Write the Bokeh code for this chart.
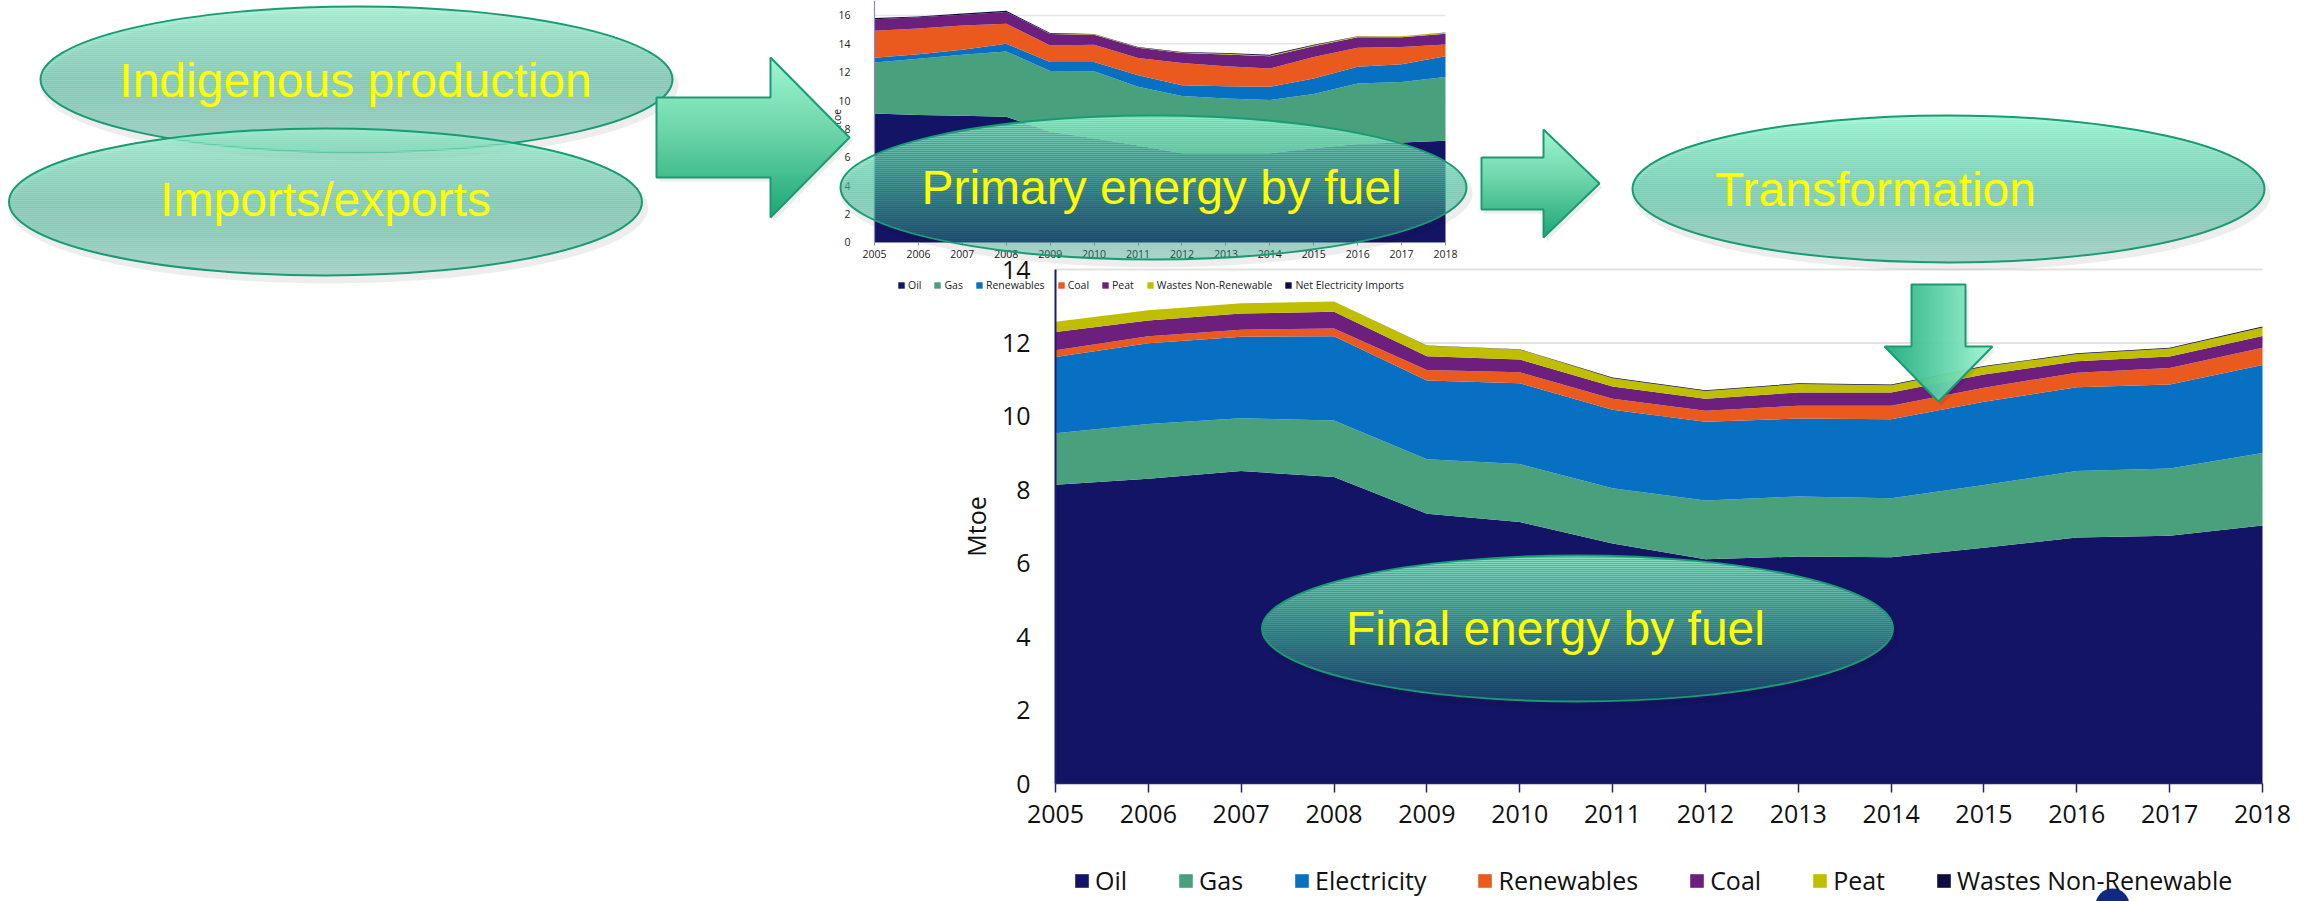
import numpy as np
from bokeh.plotting import figure
from bokeh.models import Range1d, LinearAxis, FixedTicker, ColumnDataSource, Legend, LegendItem
from bokeh.embed import file_html
from bokeh.resources import INLINE
from bokeh.core.properties import value

# ---------------- data ----------------
years = list(range(2005, 2019))

# Final energy by fuel (large chart), Mtoe
final_names = ["Oil", "Gas", "Electricity", "Renewables", "Coal", "Peat", "Wastes Non-Renewable"]
final_oil = [8.14, 8.30, 8.51, 8.35, 7.35, 7.12, 6.54, 6.11, 6.18, 6.16, 6.42, 6.70, 6.75, 7.03]
final_gas = [1.40, 1.49, 1.44, 1.54, 1.48, 1.58, 1.50, 1.60, 1.64, 1.61, 1.71, 1.81, 1.83, 1.97]
final_electricity = [2.08, 2.20, 2.22, 2.29, 2.15, 2.20, 2.14, 2.14, 2.12, 2.15, 2.27, 2.28, 2.29, 2.40]
final_renewables = [0.18, 0.19, 0.19, 0.21, 0.28, 0.30, 0.30, 0.30, 0.35, 0.37, 0.38, 0.40, 0.45, 0.47]
final_coal = [0.50, 0.43, 0.44, 0.46, 0.38, 0.35, 0.33, 0.33, 0.36, 0.36, 0.36, 0.31, 0.31, 0.32]
final_peat = [0.28, 0.28, 0.28, 0.28, 0.28, 0.27, 0.23, 0.21, 0.23, 0.20, 0.21, 0.20, 0.22, 0.23]
final_wastes = [0.0, 0.0, 0.0, 0.0, 0.01, 0.01, 0.02, 0.02, 0.02, 0.02, 0.02, 0.02, 0.02, 0.03]
final_yticks = [0, 2, 4, 6, 8, 10, 12, 14]

# Primary energy by fuel (small chart), Mtoe
prim_names = ["Oil", "Gas", "Renewables", "Coal", "Peat", "Wastes Non-Renewable", "Net Electricity Imports"]
prim_oil = [9.10, 8.98, 8.94, 8.87, 7.81, 7.35, 6.83, 6.29, 6.29, 6.29, 6.64, 6.95, 7.04, 7.18]
prim_gas = [3.58, 3.98, 4.30, 4.60, 4.28, 4.72, 4.14, 4.03, 3.86, 3.75, 3.82, 4.25, 4.28, 4.49]
prim_renewables = [0.35, 0.30, 0.35, 0.54, 0.64, 0.66, 0.82, 0.77, 0.87, 0.93, 1.10, 1.18, 1.24, 1.45]
prim_coal = [1.89, 1.83, 1.71, 1.41, 1.16, 1.21, 1.21, 1.56, 1.40, 1.29, 1.52, 1.35, 1.22, 0.84]
prim_peat = [0.82, 0.78, 0.76, 0.83, 0.81, 0.71, 0.72, 0.71, 0.83, 0.86, 0.75, 0.74, 0.69, 0.76]
prim_wastes = [0.0, 0.0, 0.0, 0.0, 0.02, 0.02, 0.03, 0.04, 0.05, 0.05, 0.05, 0.05, 0.06, 0.07]
prim_net_imports = [0.08, 0.06, 0.08, 0.08, 0.04, 0.03, 0.03, 0.03, 0.06, 0.07, 0.05, 0.02, 0.01, 0.01]
prim_yticks = [0, 2, 4, 6, 8, 10, 12, 14, 16]

bubble_labels = ["Indigenous production", "Imports/exports", "Primary energy by fuel",
                 "Transformation", "Final energy by fuel"]

# ---------------- styles ----------------
C_OIL, C_GAS, C_BLUE, C_ORANGE, C_PURPLE, C_OLIVE, C_DARK = (
    "#141466", "#48a07c", "#0770c3", "#ea5a1e", "#6c1f7d", "#bfbf00", "#0d0d3f")
final_colors = [C_OIL, C_GAS, C_BLUE, C_ORANGE, C_PURPLE, C_OLIVE, C_DARK]
prim_colors = [C_OIL, C_GAS, C_BLUE, C_ORANGE, C_PURPLE, C_OLIVE, C_DARK]
FONT = "Open Sans"
W, H = 2306, 901

p = figure(width=W, height=H,
           x_range=Range1d(1993.6371, 2018.4739), y_range=Range1d(-3.214, 21.327),
           x_axis_type=None, y_axis_type=None, toolbar_location=None,
           output_backend="svg", min_border=0, outline_line_color=None, title=None)
p.background_fill_color = "white"
p.border_fill_color = "white"
p.extra_x_ranges = {"sx": Range1d(1985.102, 2037.602), "px": Range1d(0, W)}
p.extra_y_ranges = {"sy": Range1d(-46.449, 17.057), "py": Range1d(H, 0)}

# ---------------- gridlines ----------------
p.segment(x0=2005, x1=2018, y0=final_yticks[1:], y1=final_yticks[1:],
          line_color="#e2e2e2", line_width=2, level="underlay")
p.segment(x0=2005, x1=2018, y0=prim_yticks[1:], y1=prim_yticks[1:],
          line_color="#e6e6ee", line_width=1.5, level="underlay",
          x_range_name="sx", y_range_name="sy")

# ---------------- stacked areas ----------------
fkeys = ["oil", "gas", "electricity", "renewables", "coal", "peat", "wastes"]
src_final = ColumnDataSource(dict(year=years, oil=final_oil, gas=final_gas,
                                  electricity=final_electricity, renewables=final_renewables,
                                  coal=final_coal, peat=final_peat, wastes=final_wastes))
final_r = p.varea_stack(fkeys, x="year", source=src_final, color=final_colors)

pkeys = ["oil", "gas", "renewables", "coal", "peat", "wastes", "netimp"]
src_prim = ColumnDataSource(dict(year=years, oil=prim_oil, gas=prim_gas, renewables=prim_renewables,
                                 coal=prim_coal, peat=prim_peat, wastes=prim_wastes,
                                 netimp=prim_net_imports))
prim_r = p.varea_stack(pkeys, x="year", source=src_prim, color=prim_colors,
                       x_range_name="sx", y_range_name="sy")

# ---------------- axes: final chart ----------------
yax = LinearAxis(fixed_location=2005, bounds=(0, 14), ticker=FixedTicker(ticks=final_yticks),
                 axis_label="Mtoe")
yax.axis_line_color = "#1c1c6e"; yax.axis_line_width = 2
yax.major_tick_out = 0; yax.major_tick_in = 0; yax.minor_tick_line_color = None
yax.major_label_standoff = 25
yax.major_label_text_font = FONT; yax.major_label_text_font_size = "25px"
yax.major_label_text_color = "#111111"
yax.axis_label_text_font = FONT; yax.axis_label_text_font_size = "25px"
yax.axis_label_text_font_style = "normal"; yax.axis_label_text_color = "#111111"
yax.axis_label_standoff = 6
p.add_layout(yax, "left")

xax = LinearAxis(fixed_location=0, bounds=(2005, 2018), ticker=FixedTicker(ticks=years))
xax.axis_line_color = "#24246e"; xax.axis_line_width = 1.5
xax.major_tick_line_color = "#24246e"; xax.major_tick_line_width = 1.5
xax.major_tick_out = 9; xax.major_tick_in = 0; xax.minor_tick_line_color = None
xax.major_label_standoff = 12
xax.major_label_text_font = FONT; xax.major_label_text_font_size = "25px"
xax.major_label_text_color = "#111111"
p.add_layout(xax, "below")

# ---------------- axes: primary chart ----------------
syax = LinearAxis(fixed_location=2005, bounds=(0, 18), ticker=FixedTicker(ticks=prim_yticks),
                  axis_label="Mtoe", x_range_name="sx", y_range_name="sy")
syax.axis_line_color = "#8c8cb8"; syax.axis_line_width = 1.2
syax.major_tick_out = 0; syax.major_tick_in = 0; syax.minor_tick_line_color = None
syax.major_label_standoff = 24
syax.major_label_text_font = FONT; syax.major_label_text_font_size = "10.5px"
syax.major_label_text_color = "#222222"
syax.axis_label_text_font = FONT; syax.axis_label_text_font_size = "10.5px"
syax.axis_label_text_font_style = "normal"; syax.axis_label_text_color = "#222222"
syax.axis_label_standoff = -9
p.add_layout(syax, "left")

sxax = LinearAxis(fixed_location=0, bounds=(2005, 2018), ticker=FixedTicker(ticks=years),
                  x_range_name="sx", y_range_name="sy")
sxax.axis_line_color = "#8c8cb8"; sxax.axis_line_width = 1.2
sxax.major_tick_line_color = "#8c8cb8"; sxax.major_tick_out = 3; sxax.major_tick_in = 0
sxax.minor_tick_line_color = None
sxax.major_label_standoff = 5
sxax.major_label_text_font = FONT; sxax.major_label_text_font_size = "10.5px"
sxax.major_label_text_color = "#222222"
p.add_layout(sxax, "below")

# ---------------- legends ----------------
big_leg = Legend(items=[LegendItem(label=n, renderers=[r]) for n, r in zip(final_names, final_r)],
                 orientation="horizontal", location=(1073, 4),
                 glyph_width=17, glyph_height=17, label_standoff=5, spacing=50,
                 padding=0, margin=0, label_width=0, border_line_alpha=0, background_fill_alpha=0,
                 label_text_font=FONT, label_text_font_size="25px", label_text_color="#111111")
p.add_layout(big_leg)

small_leg = Legend(items=[LegendItem(label=n, renderers=[r]) for n, r in zip(prim_names, prim_r)],
                   orientation="horizontal", location=(897, 609),
                   glyph_width=8, glyph_height=8, label_standoff=3, spacing=12,
                   padding=0, margin=0, label_width=0, border_line_alpha=0, background_fill_alpha=0,
                   label_text_font=FONT, label_text_font_size="10.5px", label_text_color="#222222")
p.add_layout(small_leg)

# ---------------- decorations (page pixel coordinates) ----------------
def interp(stops, t):
    t = min(max(t, 0.0), 1.0)
    for (t0, c0, a0), (t1, c1, a1) in zip(stops[:-1], stops[1:]):
        if t <= t1:
            f = 0.0 if t1 == t0 else (t - t0) / (t1 - t0)
            c = tuple(int(round(c0[i] + f * (c1[i] - c0[i]))) for i in range(3))
            return "#%02x%02x%02x" % c, a0 + f * (a1 - a0)
    return "#%02x%02x%02x" % stops[-1][1], stops[-1][2]

ELL_STOPS = [(0.0, (152, 242, 206), 0.93), (0.5, (84, 190, 160), 0.72), (1.0, (40, 160, 130), 0.35)]
ARROW_STOPS = [(0.0, (160, 246, 210), 1.0), (0.45, (110, 214, 170), 1.0), (1.0, (28, 166, 118), 1.0)]
DOWN_STOPS = [(0.0, (30, 172, 124), 1.0), (1.0, (160, 246, 210), 1.0)]
EDGE = "#199b73"
KW = dict(x_range_name="px", y_range_name="py", level="overlay")

bubbles = [(356, 79, 632, 146), (325, 201.5, 633, 147), (1153, 187, 626, 144),
           (1948, 188.5, 632, 147), (1577, 628, 631, 146)]
bubble_text_xy = [(355, 80), (325, 199), (1161, 187), (1875, 189), (1555, 628)]


def draw_bubble(cx, cy, w, h):
    a, b = w / 2.0, h / 2.0
    top, bot = cy - b, cy + b
    p.ellipse(x=[cx + 3], y=[cy + 6], width=w + 6, height=h + 4, fill_color="#000000",
              fill_alpha=0.07, line_color=None, **KW)
    xs, ys, cols, alps = [], [], [], []
    for y0 in np.arange(np.floor(top), np.ceil(bot), 2.0):
        ya, yb = max(y0, top), min(y0 + 2.0, bot)
        yy = np.linspace(ya, yb, 5)
        hw = a * np.sqrt(np.clip(1 - ((yy - cy) / b) ** 2, 0, 1))
        xs.append(list(np.concatenate([cx - hw, (cx + hw)[::-1]])))
        ys.append(list(np.concatenate([yy, yy[::-1]])))
        c, al = interp(ELL_STOPS, ((ya + yb) / 2 - top) / h)
        cols.append(c); alps.append(al)
    p.patches(xs=xs, ys=ys, fill_color=cols, fill_alpha=alps, line_color=None, **KW)
    p.ellipse(x=[cx], y=[cy], width=w, height=h, fill_color=None, line_color=EDGE,
              line_width=2, **KW)


def draw_right_arrow(x0, xh, xt, by0, by1, hy0, hy1, yt):
    poly_x = [x0, xh, xh, xt, xh, xh, x0]
    poly_y = [by0, by0, hy0, yt, hy1, by1, by1]
    p.patch(x=[v + 3 for v in poly_x], y=[v + 4 for v in poly_y], fill_color="#000000",
            fill_alpha=0.08, line_color=None, **KW)

    def right(y):
        return xh + (xt - xh) * (1 - abs(y - yt) / (yt - hy0))
    xs, ys, cols = [], [], []
    for y0 in range(hy0, hy1, 2):
        y1 = min(y0 + 2, hy1)
        ym = (y0 + y1) / 2
        left = x0 if by0 <= ym <= by1 else xh
        xs.append([left, right(y0), right(y1), left])
        ys.append([y0, y0, y1 + 0.4, y1 + 0.4])
        cols.append(interp(ARROW_STOPS, (ym - hy0) / (hy1 - hy0))[0])
    p.patches(xs=xs, ys=ys, fill_color=cols, line_color=None, **KW)
    p.patch(x=poly_x, y=poly_y, fill_color=None, line_color=EDGE, line_width=2, **KW)


def draw_down_arrow(bx0, bx1, hx0, hx1, top, ht, xt, yt):
    poly_x = [bx0, bx1, bx1, hx1, xt, hx0, bx0]
    poly_y = [top, top, ht, ht, yt, ht, ht]
    p.patch(x=[v + 3 for v in poly_x], y=[v + 4 for v in poly_y], fill_color="#000000",
            fill_alpha=0.08, line_color=None, **KW)
    half = (hx1 - hx0) / 2.0

    def bottom(x):
        return yt - (yt - ht) * abs(x - xt) / half
    xs, ys, cols = [], [], []
    for x0 in range(hx0, hx1):
        x1 = x0 + 1
        xm = x0 + 0.5
        tp = top if bx0 <= xm <= bx1 else ht
        xs.append([x0, x1 + 0.4, x1 + 0.4, x0])
        ys.append([tp, tp, bottom(x1), bottom(x0)])
        cols.append(interp(DOWN_STOPS, (xm - hx0) / (hx1 - hx0))[0])
    p.patches(xs=xs, ys=ys, fill_color=cols, line_color=None, **KW)
    p.patch(x=poly_x, y=poly_y, fill_color=None, line_color=EDGE, line_width=2, **KW)


draw_bubble(*bubbles[0])
draw_bubble(*bubbles[1])
draw_right_arrow(656, 770, 849, 97, 177, 57, 217, 137)
draw_bubble(*bubbles[2])
draw_right_arrow(1481, 1543, 1599, 157, 209, 129, 237, 183)
draw_bubble(*bubbles[3])
draw_bubble(*bubbles[4])
draw_down_arrow(1911, 1965, 1884, 1992, 284, 346, 1938, 401)

p.text(x=[t[0] for t in bubble_text_xy], y=[t[1] for t in bubble_text_xy], text=bubble_labels,
       text_font=value("Liberation Sans"), text_font_size="48px", text_color="#ffff00",
       text_align="center", text_baseline="middle", **KW)

# partial logo circle at the bottom edge
p.circle(x=[2112], y=[905], radius=17, fill_color="#102a82", line_color=None, **KW)

open("out.html", "w").write(file_html(p, INLINE))
